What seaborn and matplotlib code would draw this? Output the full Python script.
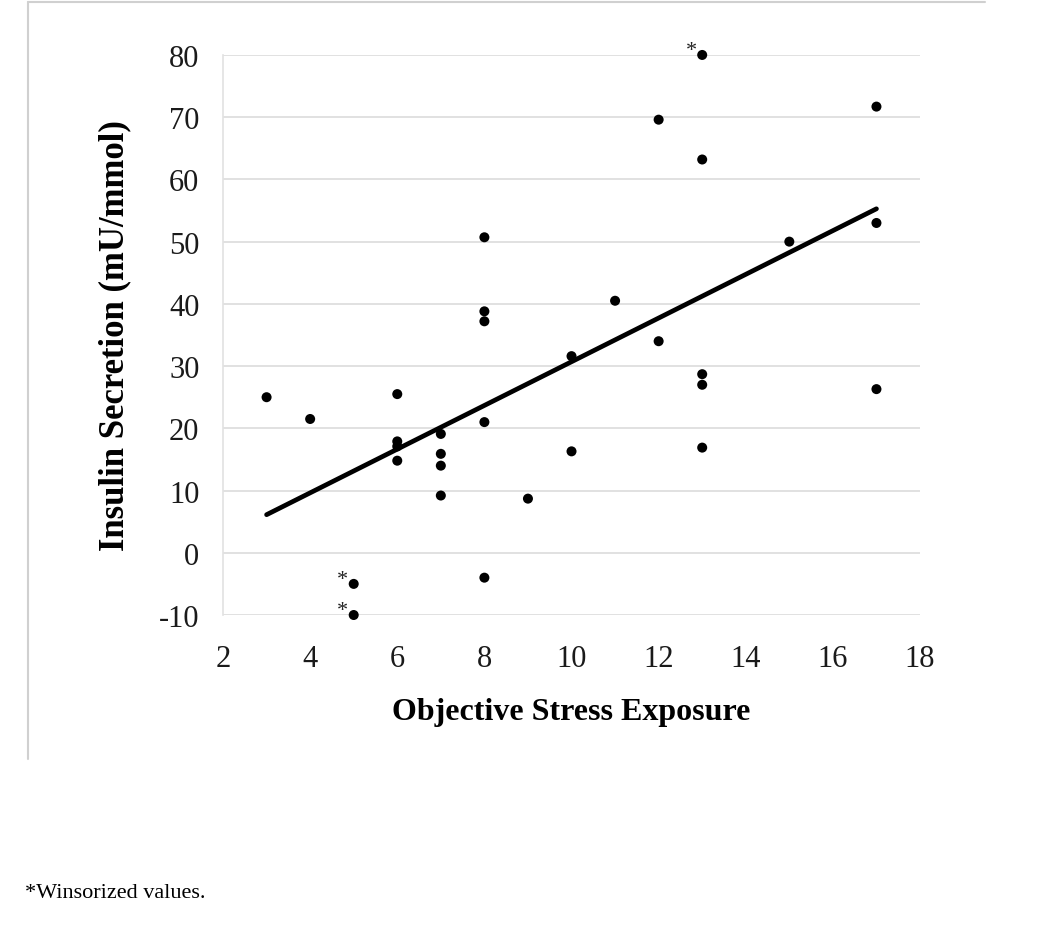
#!/usr/bin/env python3
import numpy as np
import pandas as pd
import matplotlib
matplotlib.use("Agg")
import matplotlib.pyplot as plt
from matplotlib.lines import Line2D
import seaborn as sns

# Objective stress exposure (x) vs insulin secretion (y)
stress = [3, 4, 5, 5, 6, 6, 6, 6, 7, 7, 7, 7, 8, 8, 8, 8, 8, 9, 10, 10,
          11, 12, 12, 13, 13, 13, 13, 13, 15, 17, 17, 17]
insulin = [25.0, 21.5, -5.0, -10.0, 25.5, 17.9, 17.1, 14.8, 19.1, 15.9, 14.0, 9.2,
           50.7, 38.8, 37.2, 21.0, -4.0, 8.7, 31.6, 16.3, 40.5, 69.6, 34.0,
           80.0, 63.2, 28.7, 27.0, 16.9, 50.0, 71.7, 53.0, 26.3]
# winsorized points get an asterisk
winsorized = [(13, 80.0), (5, -5.0), (5, -10.0)]

x_ticks = [2, 4, 6, 8, 10, 12, 14, 16, 18]
y_ticks = [-10, 0, 10, 20, 30, 40, 50, 60, 70, 80]

df = pd.DataFrame({"stress": stress, "insulin": insulin})

sns.set_theme(style="white")
plt.rcParams["font.family"] = ["Liberation Serif", "DejaVu Serif"]
plt.rcParams["axes.unicode_minus"] = False

fig = plt.figure(figsize=(10.5, 9.28), dpi=100)
ax = fig.add_axes([0.2124, 0.3362, 0.6638, 0.6035])

sns.regplot(data=df, x="stress", y="insulin", ax=ax, ci=None, truncate=True,
            scatter_kws=dict(s=52, color="black", alpha=1, edgecolor="none",
                             zorder=3, clip_on=False),
            line_kws=dict(color="black", lw=3.4, solid_capstyle="round", zorder=2))

for xv, yv in winsorized:
    ax.annotate("*", xy=(xv, yv), xytext=(-8, 3), textcoords="offset points",
                ha="center", va="center", fontsize=16, color="#222222")

ax.set_xlim(2, 18)
ax.set_ylim(-10, 80)
ax.set_xticks(x_ticks)
ax.set_yticks(y_ticks)
ax.yaxis.grid(True, color="#dedede", lw=1.3)
ax.xaxis.grid(False)
for side in ["top", "right", "bottom"]:
    ax.spines[side].set_visible(False)
ax.spines["left"].set_color("#e2e2e2")
ax.spines["left"].set_linewidth(1.2)
ax.tick_params(axis="both", which="major", length=7, width=1.1, color="#dedede",
               labelsize=22, labelcolor="#1a1a1a", direction="out")
ax.tick_params(axis="x", pad=14)
ax.tick_params(axis="y", pad=10)

ax.set_xlabel("Objective Stress Exposure", fontsize=23, fontweight="bold",
              color="black", labelpad=17)
ax.set_ylabel("Insulin Secretion (mU/mmol)", fontsize=25, fontweight="bold",
              color="black", labelpad=20)

# light frame of the original figure panel
fig.add_artist(Line2D([0.027, 0.938], [0.9965, 0.9965], transform=fig.transFigure,
                      color="#d0d0d0", lw=1.5))
fig.add_artist(Line2D([0.027, 0.027], [0.9965, 0.181], transform=fig.transFigure,
                      color="#d0d0d0", lw=1.5))

fig.text(0.024, 1 - 898 / 928, "*Winsorized values.", fontsize=16, color="black",
         ha="left", va="baseline")

fig.savefig("out.png", dpi=100)
